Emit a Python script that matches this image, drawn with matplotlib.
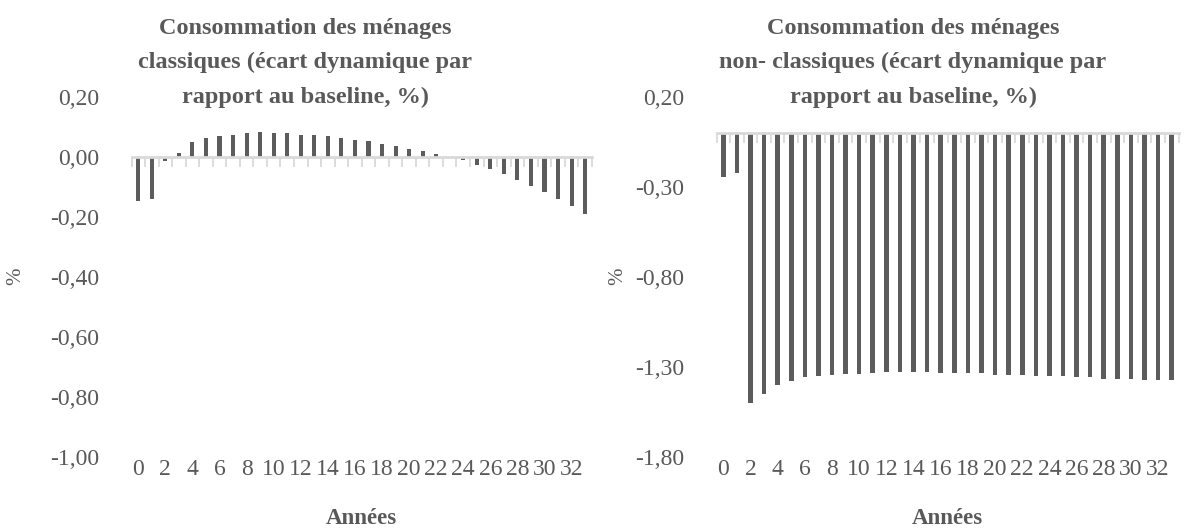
import numpy as np
import matplotlib.pyplot as plt
from matplotlib.ticker import MultipleLocator, FixedLocator

plt.rcParams['font.family'] = ['Liberation Serif', 'DejaVu Serif']

years = np.arange(0, 34)

# consommation des ménages classiques (écart au baseline, %)
conso_classiques = [-0.147, -0.140, -0.015, 0.014, 0.048, 0.061, 0.070, 0.074, 0.079, 0.082,
                    0.079, 0.079, 0.074, 0.074, 0.070, 0.061, 0.057, 0.052, 0.043, 0.036,
                    0.027, 0.019, 0.010, -0.002, -0.012, -0.029, -0.042, -0.058, -0.076, -0.097,
                    -0.118, -0.140, -0.164, -0.191]

# consommation des ménages non-classiques (écart au baseline, %)
conso_non_classiques = [-0.248, -0.226, -1.503, -1.453, -1.403, -1.381, -1.359, -1.352, -1.346, -1.341,
                        -1.339, -1.333, -1.331, -1.331, -1.331, -1.331, -1.337, -1.337, -1.337, -1.337,
                        -1.346, -1.346, -1.346, -1.352, -1.352, -1.352, -1.359, -1.359, -1.367, -1.367,
                        -1.367, -1.374, -1.374, -1.374]

titre_g = 'Consommation des ménages\nclassiques (écart dynamique par\nrapport au baseline, %)'
titre_d = 'Consommation des ménages\nnon- classiques (écart dynamique par\nrapport au baseline, %)'

grey = '#595959'
bar_col = '#5c5c5c'
axis_col = '#d9d9d9'

fig = plt.figure(figsize=(11.92, 5.31), dpi=100)
ax1 = fig.add_axes([131.5 / 1192, (531 - 456.7) / 531, 460.4 / 1192, 360 / 531])
ax2 = fig.add_axes([716.5 / 1192, (531 - 456.7) / 531, 462 / 1192, 360 / 531])


def style(ax, ylim, fmt_vals):
    ax.set_xlim(-0.5, 33.5)
    ax.set_ylim(*ylim)
    for s in ['left', 'right', 'bottom']:
        ax.spines[s].set_visible(False)
    # zero line drawn with the top spine, category tick marks hanging below it
    ax.spines['top'].set_position(('data', 0))
    ax.spines['top'].set_color(axis_col)
    ax.spines['top'].set_linewidth(2)
    ax.xaxis.set_ticks_position('both')
    ax.xaxis.set_major_locator(MultipleLocator(2))
    ax.xaxis.set_minor_locator(FixedLocator(np.arange(-0.5, 34, 1)))
    ax.tick_params(axis='x', which='major', length=0, labelsize=17, labelcolor=grey,
                   pad=2, labeltop=False, labelbottom=True)
    ax.tick_params(axis='x', which='minor', top=True, bottom=False, direction='in',
                   length=7, width=1.3, color=axis_col)
    ax.set_yticks(fmt_vals)
    ax.set_yticklabels([('%.2f' % v).replace('.', ',') for v in fmt_vals])
    ax.tick_params(axis='y', length=0, labelsize=17, labelcolor=grey, pad=23)
    ax.set_xlabel('Années', fontsize=16.5, fontweight='bold', color=grey, va='center')
    ax.xaxis.set_label_coords(0.5, -0.171)
    ax.set_ylabel('%', fontsize=15, color=grey, va='center')


ax1.bar(years, conso_classiques, width=0.3, color=bar_col, zorder=1)
style(ax1, (-1.0, 0.2), [0.2, 0.0, -0.2, -0.4, -0.6, -0.8, -1.0])
ax1.yaxis.set_label_coords(-0.251, 0.5)

ax2.bar(years, conso_non_classiques, width=0.34, color=bar_col, zorder=1)
style(ax2, (-1.8, 0.2), [0.2, -0.3, -0.8, -1.3, -1.8])
ax2.yaxis.set_label_coords(-0.213, 0.5)

fig.text(305 / 1192, 1 - 18 / 531, titre_g, ha='center', va='top', fontsize=17.5,
         fontweight='bold', color=grey, linespacing=1.82)
fig.text(913 / 1192, 1 - 18 / 531, titre_d, ha='center', va='top', fontsize=17.5,
         fontweight='bold', color=grey, linespacing=1.82)

plt.savefig('out.png', dpi=100)
